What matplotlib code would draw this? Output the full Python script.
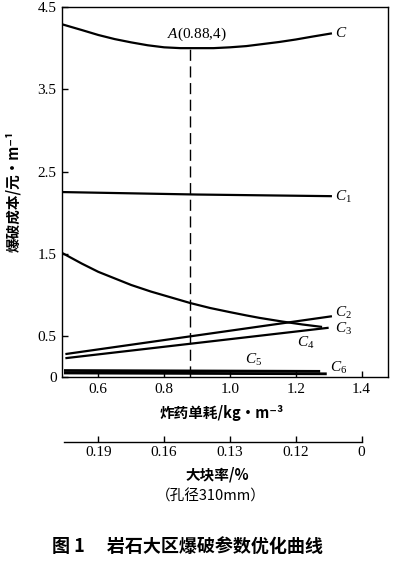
import matplotlib
matplotlib.use("Agg")
import matplotlib.pyplot as plt

plt.rcParams['font.family'] = ['Liberation Serif', 'Noto Sans CJK SC', 'DejaVu Sans']
plt.rcParams['mathtext.fontset'] = 'custom'
plt.rcParams['mathtext.rm'] = 'Liberation Serif'
plt.rcParams['mathtext.it'] = 'Liberation Serif:italic'

cjk = ['Noto Sans CJK SC', 'DejaVu Sans']

# curves (x = charge per m3, y = cost)
x_c = [0.49, 0.55, 0.6, 0.65, 0.7, 0.75, 0.8, 0.85, 0.88, 0.95, 1.0,
       1.05, 1.1, 1.15, 1.2, 1.25, 1.31]
c_total = [4.29, 4.22, 4.16, 4.11, 4.07, 4.035, 4.01, 4.0, 4.0, 4.0, 4.01,
           4.025, 4.05, 4.075, 4.105, 4.14, 4.18]
x_c1 = [0.49, 0.9, 1.31]
c1 = [2.25, 2.22, 2.20]
x_c2 = [0.5, 1.31]
c2 = [0.28, 0.74]
x_c3 = [0.5, 1.30]
c3 = [0.23, 0.60]
x_c4 = [0.49, 0.55, 0.6, 0.65, 0.7, 0.76, 0.82, 0.88, 0.94, 1.0, 1.05,
        1.09, 1.16, 1.22, 1.28]
c4 = [1.51, 1.38, 1.28, 1.20, 1.12, 1.04, 0.97, 0.90, 0.84, 0.79, 0.75,
      0.72, 0.675, 0.64, 0.61]
x_c5 = [0.5, 1.27]
c5 = [0.08, 0.07]
x_c6 = [0.5, 1.29]
c6 = [0.05, 0.04]

opt_x, opt_y = 0.88, 4.0

xticks = [0.6, 0.8, 1.0, 1.2, 1.4]
yticks = [0, 0.5, 1.5, 2.5, 3.5, 4.5]
ytick_labels = ['0', '0.5', '1.5', '2.5', '3.5', '4.5']
block_labels = ['0.19', '0.16', '0.13', '0.12', '0']

fig = plt.figure(figsize=(3.93, 5.62), dpi=100)
ax = fig.add_axes([0.158, 0.329, 0.829, 0.6585])

lw = 1.6
for xs, ys in [(x_c, c_total), (x_c1, c1), (x_c2, c2), (x_c3, c3), (x_c4, c4)]:
    ax.plot(xs, ys, color='black', lw=lw, solid_capstyle='butt',
            solid_joinstyle='round')
ax.plot(x_c5, c5, color='black', lw=2.0)
ax.plot(x_c6, c6, color='black', lw=2.0)
ax.plot([opt_x, opt_x], [0, opt_y], color='black', lw=1.0, ls=(0, (8, 4)))

ax.set_xlim(0.49, 1.48)
ax.set_ylim(0, 4.5)
ax.set_xticks(xticks)
ax.set_xticklabels([f"{t:.1f}" for t in xticks])
ax.set_yticks(yticks)
ax.set_yticklabels(ytick_labels)
ax.tick_params(direction='in', length=4, width=1, labelsize=11, pad=4)
for s in ax.spines.values():
    s.set_linewidth(1.0)

ax.text(0.90, 4.06, '$A$(0.88,4)', ha='center', va='bottom', fontsize=11)
lab = dict(fontsize=11, ha='left', va='center')
ax.text(1.32, 4.18, '$C$', **lab)
ax.text(1.32, 2.19, '$C_1$', **lab)
ax.text(1.32, 0.78, '$C_2$', **lab)
ax.text(1.32, 0.59, '$C_3$', **lab)
ax.text(1.205, 0.42, '$C_4$', **lab)
ax.text(1.047, 0.21, '$C_5$', **lab)
ax.text(1.305, 0.11, '$C_6$', **lab)

# second scale: large-block rate
ax2 = fig.add_axes([0.158, 0.2135, 0.829, 0.01])
ax2.set_xlim(ax.get_xlim())
ax2.patch.set_visible(False)
for k in ['top', 'left', 'right']:
    ax2.spines[k].set_visible(False)
ax2.spines['bottom'].set_bounds(0.495, 1.4)
ax2.spines['bottom'].set_linewidth(1.0)
ax2.set_yticks([])
ax2.set_xticks(xticks)
ax2.set_xticklabels(block_labels)
ax2.tick_params(axis='x', direction='in', length=4, width=1, labelsize=11, pad=3)

fig.text(0.033, 0.66, '爆破成本/元•m⁻¹', rotation=90, ha='center', va='center',
         fontsize=10.5, family=cjk, fontweight='bold')
fig.text(0.565, 0.265, '炸药单耗/kg•m⁻³', ha='center', va='center',
         fontsize=10.5, family=cjk, fontweight='bold')
fig.text(0.552, 0.155, '大块率/%', ha='center', va='center',
         fontsize=10.5, family=cjk, fontweight='bold')
fig.text(0.537, 0.116, '（孔径310mm）', ha='center', va='center',
         fontsize=10.5, family=cjk)
fig.text(0.478, 0.0285, '图 1　 岩石大区爆破参数优化曲线', ha='center', va='center',
         fontsize=13, family=cjk, fontweight='bold')

fig.savefig('out.png', dpi=100)
